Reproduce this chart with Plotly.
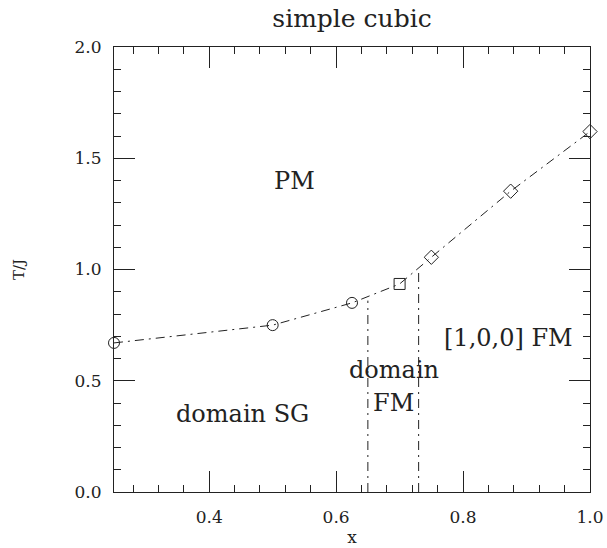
import plotly.graph_objects as go

# Data
x_circle = [0.25, 0.50, 0.625]
T_circle = [0.67, 0.75, 0.85]
x_square = [0.70]
T_square = [0.935]
x_diamond = [0.75, 0.875, 1.0]
T_diamond = [1.055, 1.352, 1.62]

x_bound = [0.65, 0.73]
T_bound_top = [0.86, 1.0]

x_ticks = [0.4, 0.6, 0.8, 1.0]
y_ticks = [0.0, 0.5, 1.0, 1.5, 2.0]

labels = ["PM", "[1,0,0] FM", "domain", "FM", "domain SG"]
label_x = [0.534, 0.872, 0.691, 0.691, 0.453]
label_y = [1.40, 0.69, 0.55, 0.40, 0.35]

INK = "#222222"
FONT = "DejaVu Serif"
DASH = "9px,5px,2px,5px"

fig = go.Figure()

x_all = x_circle + x_square + x_diamond
T_all = T_circle + T_square + T_diamond
fig.add_trace(go.Scatter(x=x_all, y=T_all, mode="lines",
                         line=dict(color=INK, width=1, dash=DASH),
                         showlegend=False, hoverinfo="skip"))

for xb, tb in zip(x_bound, T_bound_top):
    fig.add_trace(go.Scatter(x=[xb, xb], y=[0, tb], mode="lines",
                             line=dict(color=INK, width=1, dash=DASH),
                             showlegend=False, hoverinfo="skip"))

marker_sets = [(x_circle, T_circle, "circle-open"),
               (x_square, T_square, "square-open"),
               (x_diamond, T_diamond, "diamond-open")]
for xs, ts, sym in marker_sets:
    fig.add_trace(go.Scatter(x=xs, y=ts, mode="markers", cliponaxis=False,
                             marker=dict(symbol=sym, size=11, color=INK,
                                         line=dict(width=1, color=INK)),
                             showlegend=False))

for txt, lx, ly in zip(labels, label_x, label_y):
    fig.add_annotation(x=lx, y=ly, text=txt, showarrow=False,
                       font=dict(family=FONT, size=24, color=INK),
                       xanchor="center", yanchor="middle")

axis_common = dict(showgrid=False, zeroline=False, showline=True,
                   linecolor=INK, linewidth=1, mirror="ticks",
                   ticks="inside", ticklen=21, tickwidth=1, tickcolor=INK,
                   automargin=False,
                   tickfont=dict(family=FONT, size=17, color=INK))

fig.update_xaxes(range=[0.25, 1.0], tickvals=x_ticks,
                 ticktext=[f"{v:.1f}" for v in x_ticks],
                 minor=dict(dtick=0.04, tick0=0, ticks="inside", ticklen=7,
                            tickcolor=INK, tickwidth=1),
                 ticklabelstandoff=10,
                 title=dict(text="x", font=dict(family=FONT, size=17, color=INK),
                            standoff=1),
                 **axis_common)
fig.update_yaxes(range=[0, 2.0], tickvals=y_ticks,
                 ticktext=[f"{v:.1f}" for v in y_ticks],
                 minor=dict(dtick=0.1, tick0=0, ticks="inside", ticklen=7,
                            tickcolor=INK, tickwidth=1),
                 ticklabelstandoff=8,
                 title=dict(text="T/J", font=dict(family=FONT, size=15, color=INK),
                            standoff=46),
                 **axis_common)

fig.update_layout(
    width=607, height=548,
    margin=dict(l=114, r=17, t=47, b=56),
    plot_bgcolor="white", paper_bgcolor="white",
    title=dict(text="simple cubic", xref="paper", x=0.5, xanchor="center",
               yref="container", y=0.967, yanchor="middle",
               font=dict(family=FONT, size=25, color=INK)),
)

fig.write_html("out.html", config={"displayModeBar": False},
               post_script="document.body.style.margin='0';")
